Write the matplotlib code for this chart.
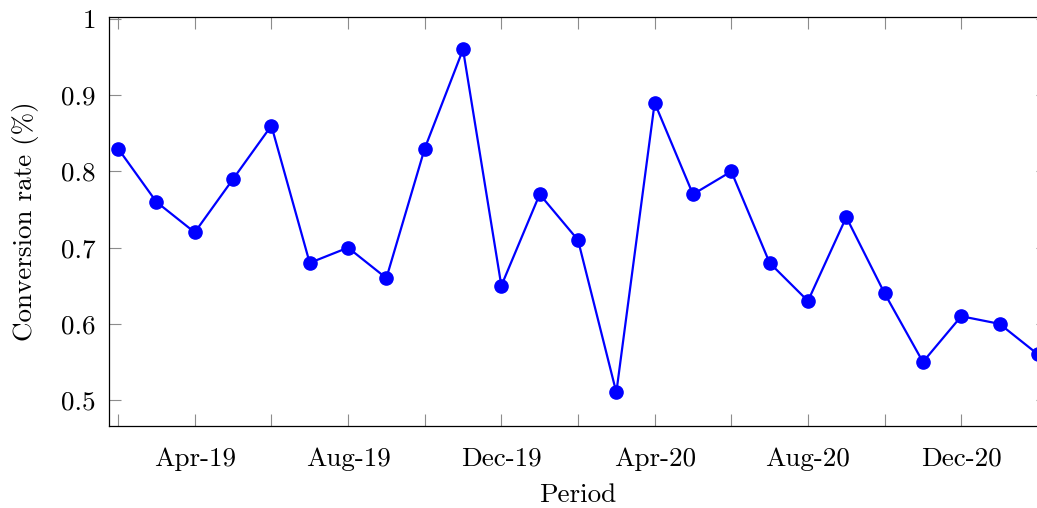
import matplotlib
matplotlib.use("Agg")
import matplotlib.pyplot as plt
from matplotlib.ticker import FixedLocator

periods = ["Feb-19", "Mar-19", "Apr-19", "May-19", "Jun-19", "Jul-19", "Aug-19",
           "Sep-19", "Oct-19", "Nov-19", "Dec-19", "Jan-20", "Feb-20", "Mar-20",
           "Apr-20", "May-20", "Jun-20", "Jul-20", "Aug-20", "Sep-20", "Oct-20",
           "Nov-20", "Dec-20", "Jan-21", "Feb-21"]
conversion = [0.83, 0.76, 0.72, 0.79, 0.86, 0.68, 0.70, 0.66, 0.83, 0.96,
              0.65, 0.77, 0.71, 0.51, 0.89, 0.77, 0.80, 0.68, 0.63, 0.74,
              0.64, 0.55, 0.61, 0.60, 0.56]
x_labels = ["Apr-19", "Aug-19", "Dec-19", "Apr-20", "Aug-20", "Dec-20"]
x_minor = ["Feb-19", "Jun-19", "Oct-19", "Feb-20", "Jun-20", "Oct-20", "Feb-21"]
y_ticks = [0.5, 0.6, 0.7, 0.8, 0.9, 1.0]
y_ticklabels = ["0.5", "0.6", "0.7", "0.8", "0.9", "1"]

plt.rcParams["font.family"] = ["cmr10", "DejaVu Serif"]
plt.rcParams["mathtext.fontset"] = "cm"
plt.rcParams["axes.unicode_minus"] = False

fig = plt.figure(figsize=(10.37, 5.08), dpi=100)
W, H = 1037, 508
left, right, top, bottom = 108.5, 1047.5, 16.7, 426
ax = fig.add_axes([left / W, 1 - bottom / H, (right - left) / W, (bottom - top) / H])

xs = list(range(len(periods)))
ax.plot(xs, conversion, color="#0000ff", lw=1.6, marker="o", ms=9.5)

ax.set_xlim(-0.25, len(periods) - 1 + 0.25)
ax.set_ylim(0.466, 1.003)
ax.set_yticks(y_ticks)
ax.set_yticklabels(y_ticklabels)

ax.set_xticks([periods.index(p) for p in x_labels])
ax.set_xticklabels(x_labels)
ax.xaxis.set_minor_locator(FixedLocator([periods.index(p) for p in x_minor]))

for which in ("major", "minor"):
    ax.tick_params(axis="both", which=which, direction="in", length=8.5, width=0.8,
                   color="#8c8c8c", top=True, right=True, labelsize=19.5, pad=9)
ax.tick_params(axis="x", which="major", pad=15)

for s in ax.spines.values():
    s.set_linewidth(0.9)
    s.set_color("black")

ax.set_xlabel("Period", fontsize=19.5, labelpad=9)
ax.set_ylabel("Conversion rate (%)", fontsize=19.5, labelpad=16)

fig.savefig("out.png", dpi=100)
